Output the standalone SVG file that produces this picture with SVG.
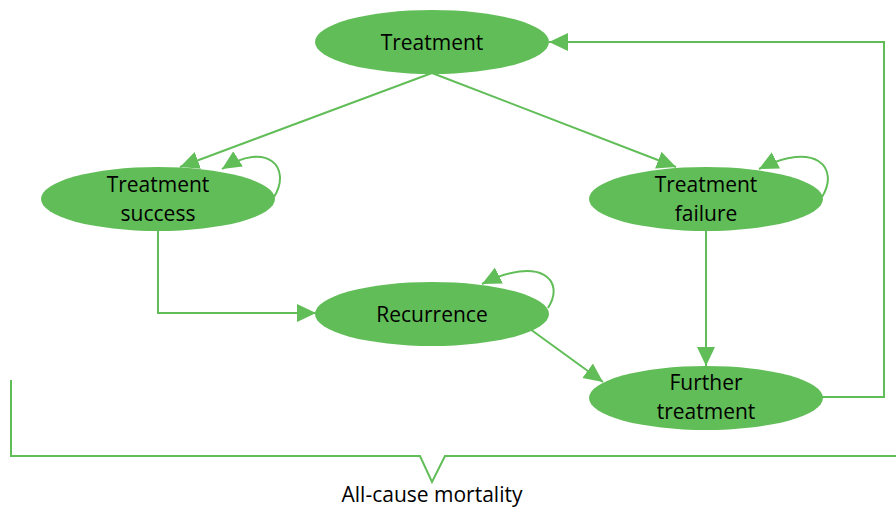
<svg xmlns="http://www.w3.org/2000/svg" width="896" height="508" viewBox="0 0 896 508">
<style>
.node{fill:#61BD58;}
.lbl{font-family:"Open Sans","Noto Sans",sans-serif;font-size:21px;fill:#000;text-anchor:middle;}
.con{fill:none;stroke:#61BD58;stroke-width:2;}
</style>
<defs>
<marker id="ah" markerUnits="userSpaceOnUse" markerWidth="22" markerHeight="20" refX="19" refY="9" orient="auto">
<path d="M0,0 L19,9 L0,18 z" fill="#61BD58"/>
</marker>
</defs>
<rect width="896" height="508" fill="#fff"/>
<g id="connectors">
<path class="con" d="M432,73 L180,167" marker-end="url(#ah)"/>
<path class="con" d="M432,73 L676,167" marker-end="url(#ah)"/>
<path class="con" d="M274,197 C292,168 268,140 222,169" marker-end="url(#ah)"/>
<path class="con" d="M822,197 C840,168 816,140 759,169" marker-end="url(#ah)"/>
<path class="con" d="M548,308 C566,280 540,255 482,284" marker-end="url(#ah)"/>
<path class="con" d="M158,231 V313 H316" marker-end="url(#ah)"/>
<path class="con" d="M706,231 V366" marker-end="url(#ah)"/>
<path class="con" d="M530,329 L603,382" marker-end="url(#ah)"/>
<path class="con" d="M822,397 H884 V42 H549" marker-end="url(#ah)"/>
<path class="con" d="M11,380 V456 H420 L432,482 L445,456 H896"/>
</g>
<g id="treatment">
<ellipse class="node" cx="432" cy="42" rx="117" ry="32"/>
<text class="lbl" x="432" y="50">Treatment</text>
</g>
<g id="success">
<ellipse class="node" cx="158" cy="199" rx="117" ry="32"/>
<text class="lbl" x="158" y="192">Treatment</text>
<text class="lbl" x="158" y="221">success</text>
</g>
<g id="failure">
<ellipse class="node" cx="706" cy="199" rx="117" ry="32"/>
<text class="lbl" x="706" y="192">Treatment</text>
<text class="lbl" x="706" y="221">failure</text>
</g>
<g id="recurrence">
<ellipse class="node" cx="432" cy="314" rx="117" ry="32"/>
<text class="lbl" x="432" y="322">Recurrence</text>
</g>
<g id="further">
<ellipse class="node" cx="706" cy="398" rx="117" ry="32"/>
<text class="lbl" x="706" y="390">Further</text>
<text class="lbl" x="706" y="419">treatment</text>
</g>
<g id="mortality">
<text class="lbl" x="432" y="502">All-cause mortality</text>
</g>
</svg>
